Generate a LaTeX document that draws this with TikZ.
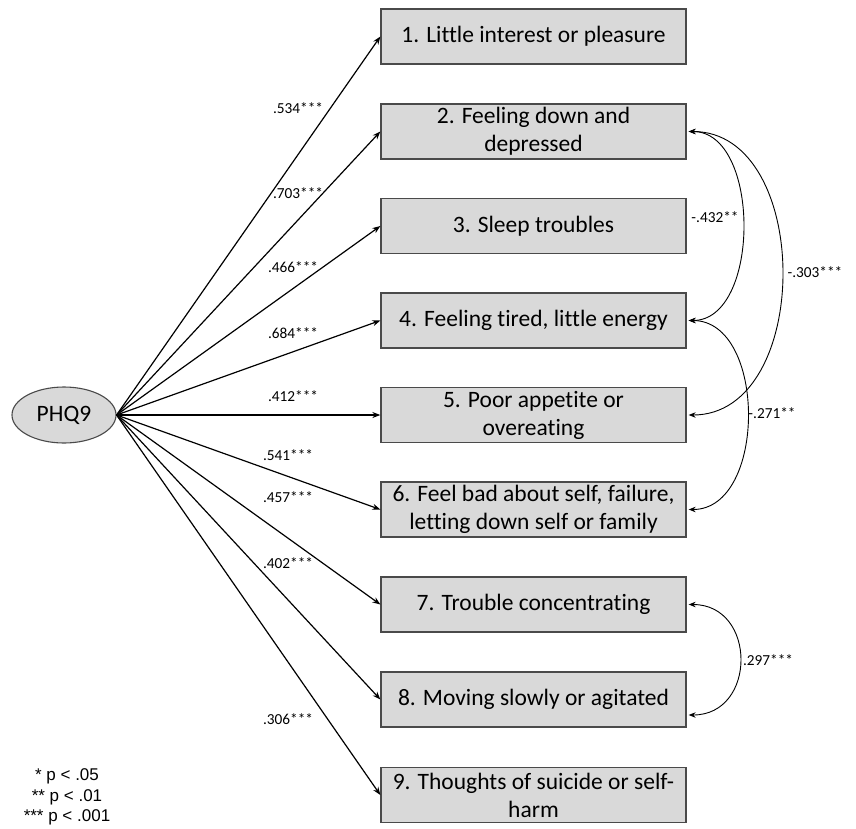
\documentclass[tikz,border=0pt]{standalone}
\usepackage{fontspec}
\setmainfont[Ligatures=NoCommon]{Carlito}
\newfontfamily\legendfont{Liberation Sans}
\usetikzlibrary{arrows.meta,shapes.geometric}
\definecolor{boxfill}{HTML}{D9D9D9}
\definecolor{boxline}{HTML}{4A4A4A}
\tikzset{
  item/.style={draw=boxline, fill=boxfill, line width=1.3pt, minimum width=305pt, minimum height=55pt,
    inner sep=0pt, align=center, font=\fontsize{23.5}{28}\selectfont},
  latent/.style={ellipse, draw=boxline, fill=boxfill, line width=1.1pt, minimum width=104pt, minimum height=56pt,
    inner sep=0pt, font=\fontsize{23.5}{28}\selectfont},
  load/.style={-{Stealth[length=8pt,width=6pt]}, line width=1.2pt, black},
  cov/.style={{Stealth[length=7pt,width=5.5pt]}-{Stealth[length=7pt,width=5.5pt]}, line width=0.9pt, black},
  lbl/.style={font=\fontsize{15.3}{18}\selectfont, inner sep=0pt},
  legend/.style={font=\legendfont\fontsize{17}{20.5}\selectfont, align=center, inner sep=0pt}
}
\begin{document}
\begin{tikzpicture}[x=1pt,y=-1pt]
\useasboundingbox (0,0) rectangle (856,828);
% latent
\node[latent] (phq) at (64,415) {PHQ9};
% items
\node[item] (b1) at (533.5,36.5) {1. Little interest or pleasure};
\node[item] (b2) at (533.5,131.5) {2. Feeling down and\\depressed};
\node[item] (b3) at (533.5,226) {3. Sleep troubles};
\node[item] (b4) at (533.5,320.5) {4. Feeling tired, little energy};
\node[item] (b5) at (533.5,415) {5. Poor appetite or\\overeating};
\node[item] (b6) at (533.5,509.5) {6. Feel bad about self, failure,\\letting down self or family};
\node[item] (b7) at (533.5,604.5) {7. Trouble concentrating};
\node[item] (b8) at (533.5,699.5) {8. Moving slowly or agitated};
\node[item] (b9) at (533.5,795) {9. Thoughts of suicide or self-\\harm};
% loadings
\foreach \b in {b1,b2,b3,b4,b5,b6,b7,b8,b9}
  \draw[load] (phq.east) -- (\b.west);
\node[lbl] (l1) at (298,108) {.534***};
\node[lbl] (l2) at (298,193) {.703***};
\node[lbl] (l3) at (293,267) {.466***};
\node[lbl] (l4) at (293,333) {.684***};
\node[lbl] (l5) at (293,396) {.412***};
\node[lbl] (l6) at (288,455) {.541***};
\node[lbl] (l7) at (288,497) {.457***};
\node[lbl] (l8) at (288,563) {.402***};
\node[lbl] (l9) at (288,719) {.306***};
% covariances
\draw[cov] ([xshift=2pt]b2.east) .. controls (761,131.5) and (761,320.5) .. ([xshift=2pt]b4.east);
\draw[cov] ([xshift=2pt]b2.east) .. controls (813,131.5) and (813,415) .. ([xshift=2pt]b5.east);
\draw[cov] ([xshift=2pt]b4.east) .. controls (767,320.5) and (767,509.5) .. ([xshift=2pt]b6.east);
\draw[cov] ([xshift=2pt]b7.east) .. controls (757,604.5) and (757,715) .. ([xshift=2pt,yshift=-15.5pt]b8.east);
\node[lbl] (c1) at (715,217) {-.432**};
\node[lbl] (c2) at (815,272) {-.303***};
\node[lbl] (c3) at (772,413) {-.271**};
\node[lbl] (c4) at (768,660) {.297***};
% legend
\node[legend] (leg) at (67,797) {* p < .05\\** p < .01\\*** p < .001};
\end{tikzpicture}
\end{document}
